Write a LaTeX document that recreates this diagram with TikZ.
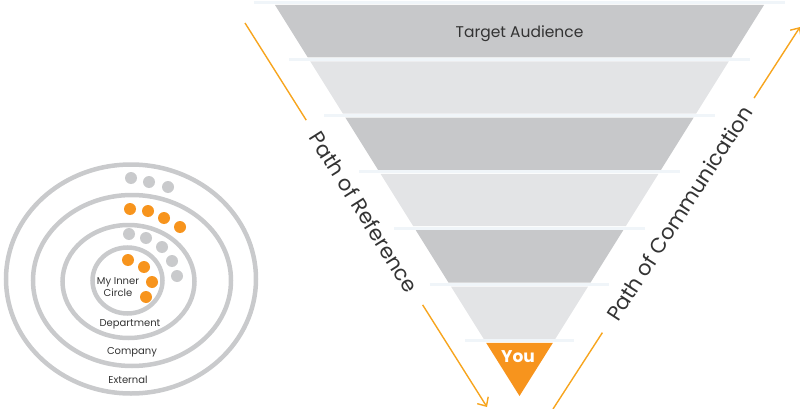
\documentclass[tikz,border=0pt]{standalone}
\usepackage{fontspec}
\setmainfont{Poppins}
\usetikzlibrary{calc,arrows.meta}

\definecolor{bandDark}{HTML}{C7C8CA}
\definecolor{bandLight}{HTML}{E3E4E6}
\definecolor{stripBlue}{HTML}{F0F5F9}
\definecolor{youOrange}{HTML}{F7941D}
\definecolor{lineOrange}{HTML}{F7A51E}
\definecolor{ringGray}{HTML}{C9CACC}
\definecolor{textGray}{HTML}{333333}

\tikzset{
  ring/.style={draw=ringGray, line width=4.5pt},
  ringlabel/.style={text=textGray, font=\fontsize{10}{12}\selectfont, align=center, inner sep=0pt},
  pathline/.style={draw=lineOrange, line width=1.4pt},
  pathlabel/.style={text=textGray, font=\fontsize{21}{24}\selectfont, inner sep=0pt}
}

\begin{document}
\begin{tikzpicture}[x=1pt,y=-1pt]
    \useasboundingbox (0,0) rectangle (800,409);

    % funnel bands
    \foreach \i/\col in {0/bandDark,1/bandLight,2/bandDark,3/bandLight,4/bandDark,5/bandLight} {
        \pgfmathsetmacro{\ytop}{5+56.3*\i}
        \pgfmathsetmacro{\ybot}{\ytop+52.3}
        \fill[\col] ({275+0.625*(\ytop-5)},\ytop) -- ({764-0.625*(\ytop-5)},\ytop)
            -- ({764-0.625*(\ybot-5)},\ybot) -- ({275+0.625*(\ybot-5)},\ybot) -- cycle;
    }
    \foreach \i in {0,...,6} {
        \pgfmathsetmacro{\ys}{2.8+56.3*\i}
        \draw[stripBlue, line width=3pt] ({255+0.625*(\ys-5)},\ys) -- ({784-0.625*(\ys-5)},\ys);
    }
    \fill[youOrange] ({275+0.625*337.8},342.8) -- ({764-0.625*337.8},342.8) -- (519.5,396) -- cycle;
    \node[text=textGray, font=\fontsize{15.5}{18}\selectfont] (target) at (519.5,34) {Target Audience};
    \node[text=white, font=\fontsize{17}{20}\selectfont\bfseries] (you) at (518,357) {You};

    % paths
    \coordinate (refTop) at (245,23);
    \coordinate (refEnd) at (487,407);
    \coordinate (comStart) at (553,409);
    \coordinate (comEnd) at (800,27);
    \draw[pathline] (refTop) -- ($(refTop)!0.253!(refEnd)$);
    \draw[pathline, -{Straight Barb[length=7pt,width=13pt]}] ($(refTop)!0.734!(refEnd)$) -- (refEnd);
    \path (refTop) -- (refEnd) node[pathlabel, sloped, pos=0.492] (refLabel) {Path of Reference};
    \draw[pathline] (comStart) -- ($(comStart)!0.2!(comEnd)$);
    \draw[pathline, -{Straight Barb[length=7pt,width=13pt]}] ($(comStart)!0.814!(comEnd)$) -- (comEnd);
    \path (comStart) -- (comEnd) node[pathlabel, sloped, pos=0.512] (comLabel) {Path of Communication};

    % circles
    \draw[ring] (131,279) ellipse [x radius=125, y radius=114.5];
    \draw[ring] (132,280.5) ellipse [x radius=99, y radius=85.5];
    \draw[ring] (128.5,281.5) ellipse [x radius=66, y radius=56.5];
    \draw[ring] (127.5,280.5) ellipse [x radius=35, y radius=33];
    \foreach \x/\y in {131/178,149/182,168/187,129/234,146/238,162/247,172/261,177/276}
        \fill[ringGray] (\x,\y) circle (6);
    \foreach \x/\y in {130/209,148/211,164/218,180/227,128/260,144/267,152/282,146/297}
        \fill[youOrange] (\x,\y) circle (6);
    \node[ringlabel] (inner) at (118,287) {My Inner\\Circle};
    \node[ringlabel] (dept) at (130,324) {Department};
    \node[ringlabel] (company) at (132,352) {Company};
    \node[ringlabel] (external) at (128,380) {External};
\end{tikzpicture}
\end{document}
